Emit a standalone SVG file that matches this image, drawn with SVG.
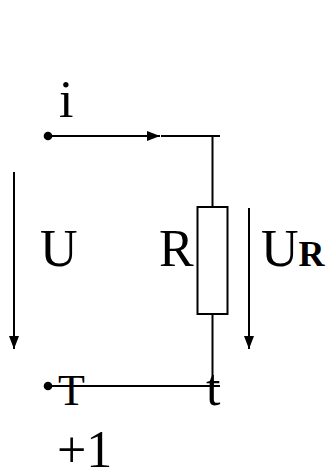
<svg xmlns="http://www.w3.org/2000/svg" width="331" height="469" viewBox="0 0 331 469">
<style>
.w{stroke:#000;stroke-width:2;fill:none}
.t{font-family:"Liberation Serif",serif;font-size:52px;fill:#000}
</style>
<defs>
<marker id="a" markerUnits="userSpaceOnUse" markerWidth="14" markerHeight="14" refX="13" refY="5" orient="auto"><path d="M0 0L13 5L0 10Z" fill="#000"/></marker>
</defs>
<rect width="331" height="469" fill="#fff"/>
<g id="connectors">
<path class="w" d="M48 136H160" marker-end="url(#a)"/>
<path class="w" d="M161 136H220"/>
<path class="w" d="M212.500 136V207"/>
<path class="w" d="M212.500 314V386"/>
<path class="w" d="M48 386H220"/>
<path class="w" d="M14 172V349" marker-end="url(#a)"/>
<path class="w" d="M249 208V349" marker-end="url(#a)"/>
</g>
<g id="terminal-top"><circle cx="48" cy="136" r="4.300" fill="#000"/></g>
<g id="terminal-bottom"><circle cx="48" cy="386" r="4.300" fill="#000"/></g>
<g id="resistor"><rect x="197.500" y="207" width="30" height="107" fill="#fff" stroke="#000" stroke-width="2"/></g>
<g id="labels">
<text class="t" x="59" y="117">i</text>
<text class="t" x="40" y="266">U</text>
<text class="t" x="159" y="266">R</text>
<text class="t" x="261" y="266">U<tspan font-size="36" font-weight="bold">R</tspan></text>
<text class="t" x="58" y="405" style="font-size:44px">T</text>
<text class="t" x="206" y="405" style="font-size:52px">t</text>
<text class="t" x="57" y="467">+1</text>
</g>
</svg>
